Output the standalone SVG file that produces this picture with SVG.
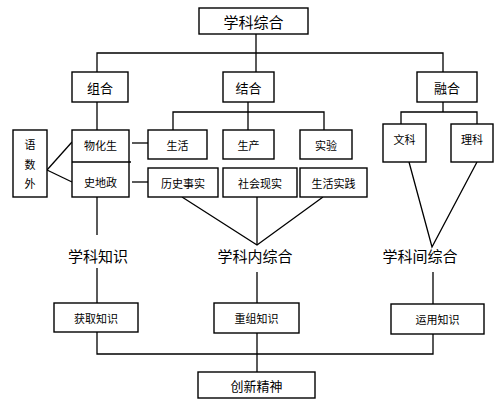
<svg xmlns="http://www.w3.org/2000/svg" width="500" height="413" viewBox="0 0 500 413">
<style>
rect{fill:#fff;stroke:#000;stroke-width:1.4}
.c line,.c polyline{stroke:#000;stroke-width:1.3;fill:none}
text{font-family:"Noto Sans CJK SC","Noto Sans",sans-serif;fill:#000;text-anchor:middle;dominant-baseline:central}
.s{font-size:11px}
.m{font-size:13px}
.l{font-size:15px}
</style>
<rect x="0" y="0" width="500" height="413" style="stroke:none"/>
<g class="c" id="connectors">
<line x1="256" y1="34" x2="256" y2="72"/>
<polyline points="97,72 97,53 443,53 443,72"/>
<line x1="97" y1="102" x2="97" y2="130"/>
<line x1="248" y1="102" x2="248" y2="130"/>
<polyline points="173,130 173,112 324,112 324,130"/>
<line x1="443" y1="102" x2="443" y2="112"/>
<polyline points="401,124 401,112 477,112 477,124"/>
<line x1="47" y1="170" x2="72" y2="142"/>
<line x1="47" y1="170" x2="72" y2="182"/>
<line x1="132" y1="143" x2="148" y2="143"/>
<line x1="132" y1="182" x2="148" y2="182"/>
<polyline points="182,197 257,245 323,197"/>
<line x1="257" y1="197" x2="257" y2="245"/>
<polyline points="409,162 432,247 477,162"/>
<line x1="97" y1="197" x2="97" y2="235"/>
<line x1="97" y1="268" x2="97" y2="303"/>
<line x1="257" y1="272" x2="257" y2="303"/>
<line x1="433" y1="272" x2="433" y2="304"/>
<polyline points="97,332 97,354 433,354 433,334"/>
<line x1="257" y1="333" x2="257" y2="372"/>
</g>
<g id="n-xkzh"><rect x="199" y="8" width="109" height="26"/><text class="l" x="253.5" y="21">学科综合</text></g>
<g id="n-zuhe"><rect x="72" y="72" width="56" height="30"/><text class="m" x="100" y="87">组合</text></g>
<g id="n-jiehe"><rect x="223" y="72" width="51" height="30"/><text class="m" x="248.5" y="87">结合</text></g>
<g id="n-ronghe"><rect x="417" y="72" width="60" height="30"/><text class="m" x="447" y="87">融合</text></g>
<g id="n-ysw"><rect x="13" y="130" width="34" height="67"/><text class="s" x="30" y="144">语</text><text class="s" x="30" y="164">数</text><text class="s" x="30" y="183">外</text></g>
<g id="n-whs"><rect x="72" y="130" width="57" height="67"/><line x1="72" y1="162" x2="131" y2="162" style="stroke:#000;stroke-width:1.3"/><text class="s" x="100.5" y="145">物化生</text><text class="s" x="100.5" y="182">史地政</text></g>
<g id="n-shenghuo"><rect x="148" y="130" width="59" height="29"/><text class="s" x="177.5" y="144.5">生活</text></g>
<g id="n-shengchan"><rect x="223" y="130" width="51" height="29"/><text class="s" x="248.5" y="144.5">生产</text></g>
<g id="n-shiyan"><rect x="300" y="130" width="52" height="29"/><text class="s" x="326" y="144.5">实验</text></g>
<g id="n-lsss"><rect x="148" y="168" width="70" height="29"/><text class="s" x="183" y="182.5">历史事实</text></g>
<g id="n-shxs"><rect x="223" y="168" width="74" height="29"/><text class="s" x="260" y="182.5">社会现实</text></g>
<g id="n-shsj"><rect x="300" y="168" width="67" height="29"/><text class="s" x="333.5" y="182.5">生活实践</text></g>
<g id="n-wenke"><rect x="383" y="124" width="43" height="38"/><text class="s" x="404.5" y="139">文科</text></g>
<g id="n-like"><rect x="451" y="124" width="42" height="38"/><text class="s" x="472" y="139">理科</text></g>
<g id="n-xkzs"><text class="l" x="98" y="255">学科知识</text></g>
<g id="n-xknzh"><text class="l" x="255" y="255">学科内综合</text></g>
<g id="n-xkjzh"><text class="l" x="420" y="255">学科间综合</text></g>
<g id="n-hqzs"><rect x="54" y="303" width="84" height="29"/><text class="s" x="96" y="317.5">获取知识</text></g>
<g id="n-czzs"><rect x="214" y="303" width="85" height="30"/><text class="s" x="256.5" y="318">重组知识</text></g>
<g id="n-yyzs"><rect x="391" y="304" width="93" height="30"/><text class="s" x="437.5" y="319">运用知识</text></g>
<g id="n-cxjs"><rect x="198" y="372" width="117" height="26"/><text class="m" x="256.5" y="385">创新精神</text></g>
</svg>
